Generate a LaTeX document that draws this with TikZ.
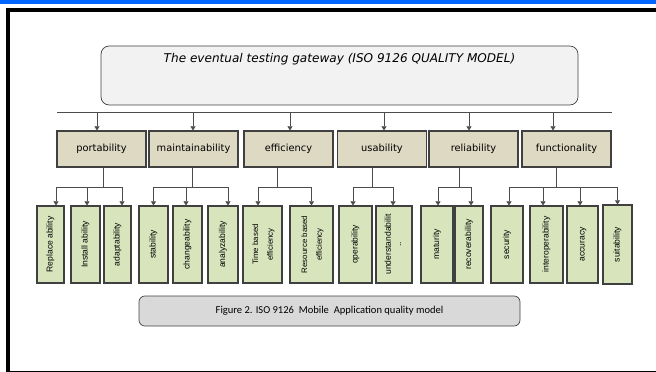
\documentclass[tikz,border=0pt]{standalone}
\usepackage{fontspec}
\usepackage{tikz}
\usetikzlibrary{arrows.meta, calc}
\newfontfamily\catfont{DejaVu Sans}
\newfontfamily\subfont{Liberation Sans}
\newfontfamily\capfont{Carlito}
\definecolor{topblue}{RGB}{0,102,255}
\definecolor{gatefill}{RGB}{242,242,242}
\definecolor{catfill}{RGB}{221,217,195}
\definecolor{subfill}{RGB}{215,228,188}
\definecolor{capfill}{RGB}{217,217,217}
\definecolor{edge}{RGB}{64,64,64}
\newcommand{\px}{0.03cm}
\newcommand{\vtext}[1]{\rotatebox{90}{\begin{tabular}{@{}c@{}}#1\end{tabular}}}

\begin{document}
\begin{tikzpicture}[x=0.03cm, y=-0.03cm, >={Triangle[length=3.6pt,width=4.4pt]},
  gatebox/.style={draw=edge, fill=gatefill, rounded corners=7pt, line width=0.6pt},
  gatetext/.style={font=\catfont\itshape\fontsize{10.3}{12}\selectfont},
  catbox/.style={draw=edge, fill=catfill, line width=0.9pt, inner sep=0pt,
    minimum width=89*\px, minimum height=36*\px, font=\catfont\fontsize{8.4}{10}\selectfont},
  subbox/.style={draw=edge, fill=subfill, line width=0.9pt, inner sep=0pt,
    minimum height=77*\px, font=\subfont\fontsize{7.3}{8.7}\selectfont},
  capbox/.style={draw=edge, fill=capfill, rounded corners=5pt, line width=0.6pt,
    font=\capfont\fontsize{9}{11}\selectfont},
  wire/.style={draw=black!70, line width=0.8pt},
  conn/.style={wire, ->}]
  \useasboundingbox (0,0) rectangle (656,372);

  % page frame
  \fill[topblue] (0,0) rectangle (656,3.7);
  \fill[black] (6,8) rectangle (656,12);
  \fill[black] (6,8) rectangle (10,372);
  \fill[black] (6,370.5) rectangle (656,372);

  % root
  \node[gatebox, minimum width=477*\px, minimum height=59*\px,
    label={[gatetext, anchor=center, yshift=-14*\px]north:The eventual testing gateway (ISO 9126 QUALITY MODEL)}]
    (gate) at (339.5,75.5) {};

  \coordinate (busL) at (57,112);
  \coordinate (busR) at (612,112);
  \coordinate (br) at (0,187);

  % characteristics
  \node[catbox] (portab) at (101.5,149) {portability};
  \node[catbox] (maint) at (193.5,149) {maintainability};
  \node[catbox] (effic) at (288.5,149) {efficiency};
  \node[catbox] (usab) at (382,149) {usability};
  \node[catbox] (relia) at (473.5,149) {reliability};
  \node[catbox] (funct) at (566.5,149) {functionality};

  % sub-characteristics
  \node[subbox, minimum width=27*\px] (repl) at (50.5,244.5) {\vtext{Replace ability}};
  \node[subbox, minimum width=29*\px] (inst) at (85.5,244.5) {\vtext{Install ability}};
  \node[subbox, minimum width=27*\px] (adapt) at (117.5,244.5) {\vtext{adaptability}};
  \node[subbox, minimum width=29*\px] (stab) at (153.5,244.5) {\vtext{stability}};
  \node[subbox, minimum width=29*\px] (chang) at (187.5,244.5) {\vtext{changeability}};
  \node[subbox, minimum width=30*\px] (analy) at (223,244.5) {\vtext{analyzability}};
  \node[subbox, minimum width=39*\px, font=\subfont\fontsize{6.7}{12.5}\selectfont]
    (timeb) at (262.5,244.5) {\vtext{Time based\\efficiency}};
  \node[subbox, minimum width=43*\px, font=\subfont\fontsize{6.7}{12.5}\selectfont]
    (resb) at (311.5,244.5) {\vtext{Resource based\\efficiency}};
  \node[subbox, minimum width=33*\px] (oper) at (355.5,244.5) {\vtext{operability}};
  \node[subbox, minimum width=36*\px] (under) at (394,244.5) {\vtext{understandabilit\\..}};
  \node[subbox, minimum width=32*\px] (matur) at (437,244.5) {\vtext{maturity}};
  \node[subbox, minimum width=28*\px] (recov) at (469,244.5) {\vtext{recoverability}};
  \node[subbox, minimum width=32*\px] (secur) at (507,244.5) {\vtext{security}};
  \node[subbox, minimum width=33*\px] (inter) at (546.5,244.5) {\vtext{interoperability}};
  \node[subbox, minimum width=31*\px] (accur) at (582.5,244.5) {\vtext{accuracy}};
  \node[subbox, minimum width=29*\px, minimum height=79*\px] (suit) at (617.5,244.5) {\vtext{suitability}};

  % caption
  \node[capbox, minimum width=381*\px, minimum height=30*\px] (cap) at (329.5,311)
    {Figure 2. ISO 9126\ \ Mobile\ \ Application quality model};

  % bus to characteristics
  \draw[wire] (busL) -- (busR);
  \draw[conn] ($(portab.north |- busL)+(-4.5,0)$) -- ($(portab.north)+(-4.5,0)$);
  \draw[conn] ($(maint.north |- busL)+(-0.5,0)$) -- ($(maint.north)+(-0.5,0)$);
  \draw[conn] ($(effic.north |- busL)+(1.5,0)$) -- ($(effic.north)+(1.5,0)$);
  \draw[conn] ($(usab.north |- busL)+(2,0)$) -- ($(usab.north)+(2,0)$);
  \draw[conn] ($(relia.north |- busL)+(-4.5,0)$) -- ($(relia.north)+(-4.5,0)$);
  \draw[conn] ($(funct.north |- busL)+(-13.5,0)$) -- ($(funct.north)+(-13.5,0)$);

  % characteristics to sub-characteristics
  \draw[conn] ($(portab.south)+(1.5,0)$) |- ($(repl.north |- br)+(5.5,0)$) -- ($(repl.north)+(5.5,0)$);
  \draw[conn] ($(portab.south)+(1.5,0)$) |- ($(inst.north |- br)+(1.5,0)$) -- ($(inst.north)+(1.5,0)$);
  \draw[conn] ($(portab.south)+(1.5,0)$) |- ($(adapt.north |- br)+(4.5,0)$) -- ($(adapt.north)+(4.5,0)$);
  \draw[conn] ($(maint.south)+(-1.5,0)$) |- ($(stab.north |- br)$) -- (stab.north);
  \draw[conn] ($(maint.south)+(-1.5,0)$) |- ($(chang.north |- br)+(-1.5,0)$) -- ($(chang.north)+(-1.5,0)$);
  \draw[conn] ($(maint.south)+(-1.5,0)$) |- ($(analy.north |- br)+(5,0)$) -- ($(analy.north)+(5,0)$);
  \draw[conn] ($(effic.south)+(-11.5,0)$) |- ($(timeb.north |- br)+(-4.5,0)$) -- ($(timeb.north)+(-4.5,0)$);
  \draw[conn] ($(effic.south)+(-11.5,0)$) |- ($(resb.north |- br)$) -- (resb.north);
  \draw[conn] ($(usab.south)+(-10,0)$) |- ($(oper.north |- br)+(-2.5,0)$) -- ($(oper.north)+(-2.5,0)$);
  \draw[conn] ($(usab.south)+(-10,0)$) |- ($(under.north |- br)+(-1,0)$) -- ($(under.north)+(-1,0)$);
  \draw[conn] ($(relia.south)+(-14.5,0)$) |- ($(matur.north |- br)+(1,0)$) -- ($(matur.north)+(1,0)$);
  \draw[conn] ($(relia.south)+(-14.5,0)$) |- ($(recov.north |- br)+(2,0)$) -- ($(recov.north)+(2,0)$);
  \draw[conn] ($(funct.south)+(-10.5,0)$) |- ($(secur.north |- br)+(2,0)$) -- ($(secur.north)+(2,0)$);
  \draw[conn] ($(funct.south)+(-10.5,0)$) |- ($(inter.north |- br)+(-3.5,0)$) -- ($(inter.north)+(-3.5,0)$);
  \draw[conn] ($(funct.south)+(-10.5,0)$) |- ($(accur.north |- br)+(-2.5,0)$) -- ($(accur.north)+(-2.5,0)$);
  \draw[conn] ($(funct.south)+(-10.5,0)$) |- ($(suit.north |- br)$) -- (suit.north);
\end{tikzpicture}
\end{document}
